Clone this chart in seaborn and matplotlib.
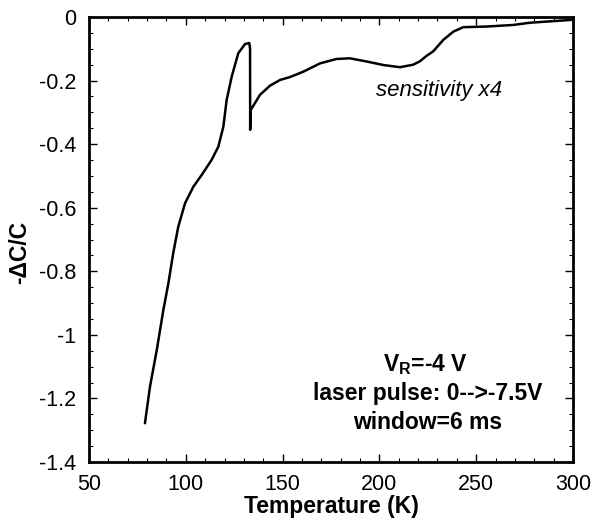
import matplotlib
matplotlib.use("Agg")
import matplotlib.pyplot as plt
import seaborn as sns
import pandas as pd
from matplotlib.ticker import MultipleLocator

# ---- data ----
temperature = [78.9, 81.5, 85.0, 88.4, 91.0, 93.5, 96.1, 99.6, 103.9, 108.2,
               113.3, 116.8, 119.4, 121.1, 123.7, 127.1, 130.6, 132.8, 133.2, 133.25,
               133.5, 138.3, 143.5, 148.7, 153.8, 160.7, 169.3, 177.9, 184.8, 193.4,
               202.0, 210.6, 217.5, 221.0, 224.4, 227.8, 233.0, 238.2, 243.3, 255.4,
               269.2, 277.8, 289.8, 299.3]
dcc = [-1.278, -1.163, -1.048, -0.922, -0.838, -0.743, -0.660, -0.586, -0.534, -0.497,
       -0.450, -0.408, -0.345, -0.261, -0.188, -0.114, -0.085, -0.082, -0.100, -0.355,
       -0.293, -0.245, -0.216, -0.198, -0.189, -0.172, -0.146, -0.132, -0.130, -0.140,
       -0.151, -0.158, -0.150, -0.139, -0.122, -0.108, -0.072, -0.046, -0.032, -0.030,
       -0.025, -0.018, -0.013, -0.009]

x_ticks = [50, 100, 150, 200, 250, 300]
y_ticks = [-1.4, -1.2, -1, -0.8, -0.6, -0.4, -0.2, 0]
y_tick_labels = ["-1.4", "-1.2", "-1", "-0.8", "-0.6", "-0.4", "-0.2", "0"]

df = pd.DataFrame({"T": temperature, "dC": dcc})

sns.set_style("ticks")
plt.rcParams["font.family"] = ["Liberation Sans", "DejaVu Sans"]
plt.rcParams["text.color"] = "black"
plt.rcParams["axes.labelcolor"] = "black"
plt.rcParams["xtick.color"] = "black"
plt.rcParams["ytick.color"] = "black"
plt.rcParams["mathtext.fontset"] = "custom"
plt.rcParams["mathtext.rm"] = "Liberation Sans:bold"
plt.rcParams["mathtext.bf"] = "Liberation Sans:bold"

fig = plt.figure(figsize=(5.94, 5.22), dpi=100)
ax = fig.add_axes([89/594, 1 - 462/522, (573 - 89)/594, (462 - 17)/522])

sns.lineplot(data=df, x="T", y="dC", sort=False, estimator=None,
             color="black", linewidth=1.8, ax=ax)
for ln in ax.get_lines():
    ln.set_solid_joinstyle("round")
    ln.set_solid_capstyle("round")

ax.set_xlim(50, 300)
ax.set_ylim(-1.4, 0)
ax.set_xticks(x_ticks)
ax.set_xticklabels([str(t) for t in x_ticks])
ax.set_yticks(y_ticks)
ax.set_yticklabels(y_tick_labels)
ax.xaxis.set_minor_locator(MultipleLocator(10))
ax.yaxis.set_minor_locator(MultipleLocator(0.05))

ax.tick_params(which="major", direction="in", length=6, width=1,
               top=True, right=True, labelsize=15.5, pad=9,
               color="black", labelcolor="black")
ax.tick_params(which="minor", direction="in", length=3, width=0.8,
               top=True, right=True, color="black")
for s in ax.spines.values():
    s.set_linewidth(2)
    s.set_color("black")

ax.set_xlabel("Temperature (K)", fontsize=16.5, fontweight="bold", labelpad=0,
              color="black")
ax.set_ylabel("-ΔC/C", fontsize=16.5, fontweight="bold", labelpad=2,
              color="black")
ax.yaxis.set_label_coords(-0.12, 0.47)

ax.text(230.8, -0.23, "sensitivity x4", fontsize=16, style="italic",
        ha="center", va="center", color="black")
ax.text(224, -1.092, r"V$_{\mathbf{R}}$=-4 V", fontsize=16.5, fontweight="bold",
        ha="center", va="center", color="black")
ax.text(225, -1.183, "laser pulse: 0-->-7.5V", fontsize=16.5, fontweight="bold",
        ha="center", va="center", color="black")
ax.text(225, -1.275, "window=6 ms", fontsize=16.5, fontweight="bold",
        ha="center", va="center", color="black")

fig.savefig("out.png", dpi=100)
